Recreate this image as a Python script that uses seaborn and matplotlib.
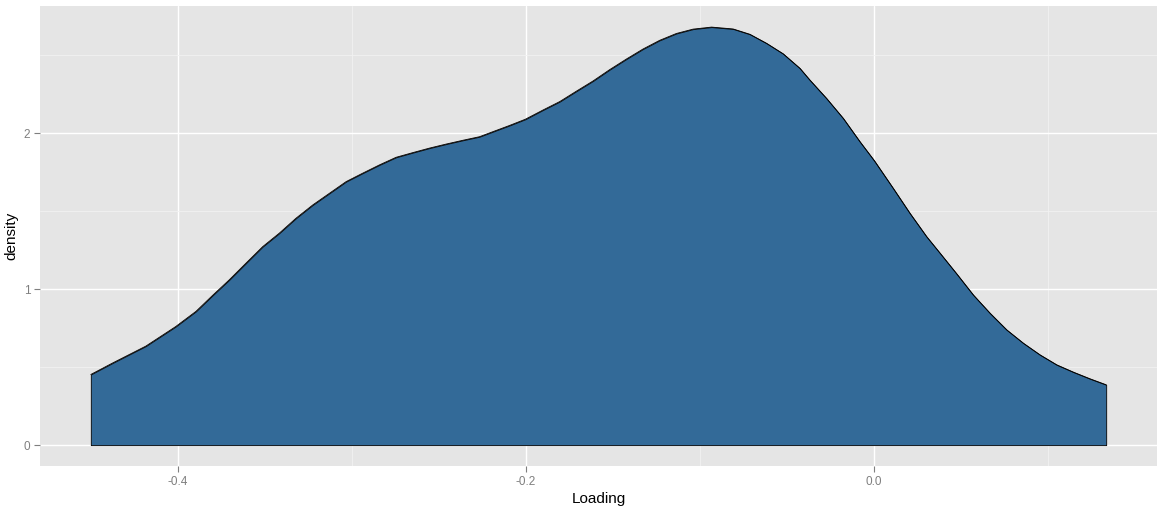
import numpy as np
import pandas as pd
import matplotlib
matplotlib.use("Agg")
import matplotlib.pyplot as plt
import seaborn as sns

# density curve (Loading vs density)
loading = [-0.4498, -0.4374, -0.4182, -0.4011, -0.3894, -0.3799, -0.3703, -0.3607,
           -0.3511, -0.3416, -0.3320, -0.3224, -0.3128, -0.3032, -0.2937, -0.2841,
           -0.2745, -0.2649, -0.2553, -0.2457, -0.2362, -0.2266, -0.2190, -0.2094,
           -0.2003, -0.1902, -0.1806, -0.1710, -0.1615, -0.1519, -0.1423, -0.1328,
           -0.1232, -0.1136, -0.1040, -0.0934, -0.0810, -0.0714, -0.0618, -0.0523,
           -0.0427, -0.0370, -0.0274, -0.0178, -0.0082, 0.0000, 0.0109, 0.0205,
           0.0301, 0.0378, 0.0474, 0.0569, 0.0665, 0.0761, 0.0856, 0.0952,
           0.1048, 0.1144, 0.1240, 0.1332]
density = [0.453, 0.526, 0.635, 0.760, 0.858, 0.960, 1.060, 1.167,
           1.273, 1.359, 1.455, 1.540, 1.615, 1.690, 1.744, 1.797,
           1.846, 1.876, 1.905, 1.931, 1.955, 1.978, 2.010, 2.050,
           2.090, 2.149, 2.203, 2.270, 2.335, 2.408, 2.476, 2.540,
           2.596, 2.640, 2.668, 2.681, 2.669, 2.635, 2.577, 2.510,
           2.417, 2.342, 2.224, 2.096, 1.946, 1.825, 1.647, 1.487,
           1.337, 1.231, 1.098, 0.963, 0.846, 0.739, 0.654, 0.579,
           0.515, 0.468, 0.425, 0.387]

x_ticks = [-0.4, -0.2, 0.0]
x_tick_labels = ["-0.4", "-0.2", "0.0"]
y_ticks = [0, 1, 2]

df = pd.DataFrame({"Loading": loading, "density": density})

sns.set_theme(style="darkgrid")
plt.rcParams["font.family"] = ["Liberation Sans", "DejaVu Sans"]

fig = plt.figure(figsize=(11.67, 5.12), dpi=100)
ax = fig.add_axes([0.0343, 0.0898, 0.9571, 0.8981])
ax.set_facecolor("#E5E5E5")

fill_col = "#336A98"
ax.fill_between(df["Loading"], df["density"], 0, facecolor=fill_col,
                edgecolor="black", linewidth=0.6, zorder=3)
sns.lineplot(data=df, x="Loading", y="density", color="black", lw=0.6,
             ax=ax, zorder=4)

# ggplot-like expansion
xr = df["Loading"].max() - df["Loading"].min()
ax.set_xlim(df["Loading"].min() - 0.05 * xr, df["Loading"].max() + 0.05 * xr)
ymax = df["density"].max()
ax.set_ylim(-0.05 * ymax, ymax * 1.05)

ax.set_xticks(x_ticks)
ax.set_xticklabels(x_tick_labels)
ax.set_yticks(y_ticks)
ax.set_xticks([-0.3, -0.1, 0.1], minor=True)
ax.set_yticks([0.5, 1.5, 2.5], minor=True)
ax.grid(which="major", color="white", linewidth=1.0)
ax.grid(which="minor", color="#F2F2F2", linewidth=0.6)
ax.set_axisbelow(True)
for s in ax.spines.values():
    s.set_visible(False)

ax.tick_params(axis="both", which="major", length=4, width=0.8, color="#7F7F7F",
               labelcolor="#7F7F7F", labelsize=8.5, pad=3, bottom=True, left=True)
ax.tick_params(axis="both", which="minor", length=0)
ax.set_xlabel("Loading", fontsize=11, color="black", labelpad=3)
ax.set_ylabel("density", fontsize=11, color="black", labelpad=4)

fig.savefig("out.png", dpi=100, facecolor="white")
